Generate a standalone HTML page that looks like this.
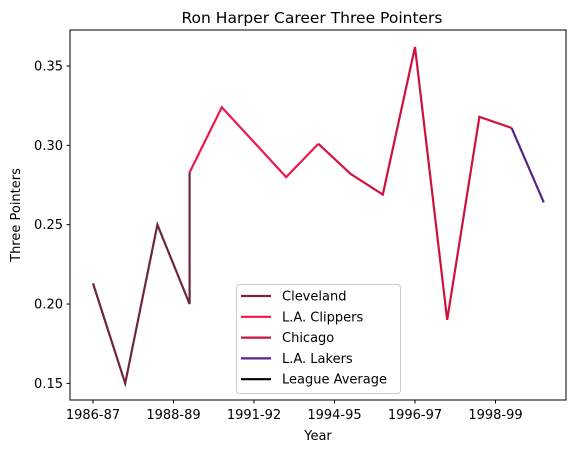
<!DOCTYPE html>
<html><head><meta charset="utf-8"><style>
body{margin:0;background:#fff;}
svg text{font-family:"DejaVu Sans","Liberation Sans",sans-serif;fill:#000;}
</style></head><body>
<svg id="chart" width="579" height="453" xmlns="http://www.w3.org/2000/svg">
<rect width="579" height="453" fill="#fff"/>
<text x="312" y="23" font-size="15.5" text-anchor="middle">Ron Harper Career Three Pointers</text>
<g id="plot"></g>
<rect x="70" y="30" width="496" height="370" fill="none" stroke="#000" stroke-width="1"/>
<text x="318" y="440" font-size="13" text-anchor="middle">Year</text>
<text transform="translate(20,215) rotate(-90)" font-size="13" text-anchor="middle">Three Pointers</text>
<g id="legend"></g>
</svg>
<script>
const xTickLabels=["1986-87","1988-89","1991-92","1994-95","1996-97","1998-99"];
const xTickPos=[0,2.5,5,7.5,10,12.5];
const yTicks=[0.15,0.20,0.25,0.30,0.35];
const seriesNames=["Cleveland","L.A. Clippers","Chicago","L.A. Lakers","League Average"];
const seriesColors=["#6f263d","#ed174c","#ce1141","#552583","#000000"];
const clevX=[0,1,2,3,3];const clevY=[0.213,0.150,0.250,0.200,0.283];
const clipX=[3,4,5,6,7];const clipY=[0.283,0.324,0.302,0.280,0.301];
const chiX=[7,8,9,10,11,12,13];const chiY=[0.301,0.282,0.269,0.362,0.190,0.318,0.311];
const lakX=[13,14];const lakY=[0.311,0.264];
const NS="http://www.w3.org/2000/svg";
function xs(i){return 93+i*32.2;}
function ys(v){return 30+(0.3727-v)*1586.7;}
const plot=document.getElementById('plot');
const svg=document.getElementById('chart');
function mk(t,a,p){const e=document.createElementNS(NS,t);for(const k in a)e.setAttribute(k,a[k]);(p||plot).appendChild(e);return e;}
yTicks.forEach(v=>{
 const l=mk('line',{x1:66.5,x2:70,y1:ys(v),y2:ys(v),stroke:'#000'},svg);
 
 
 const t=mk('text',{x:63,y:ys(v)+4.5,'font-size':13,'text-anchor':'end'},svg);
 t.textContent=v.toFixed(2);
 
 
});
xTickPos.forEach((p,i)=>{
 const l=mk('line',{x1:xs(p),x2:xs(p),y1:400,y2:403.5,stroke:'#000'},svg);
 
 
 const t=mk('text',{x:xs(p),y:419,'font-size':13,'text-anchor':'middle'},svg);
 t.textContent=xTickLabels[i];
 
 
});
const series=[[clevX,clevY,"cleveland-line"],[clipX,clipY,"clippers-line"],[chiX,chiY,"chicago-line"],[lakX,lakY,"lakers-line"]];
series.forEach((s,k)=>{
 const pts=s[0].map((x,i)=>xs(x)+','+ys(s[1][i])).join(' ');
 const pl=mk('polyline',{points:pts,fill:'none',stroke:seriesColors[k],'stroke-width':2.2,'stroke-linejoin':'miter'});
 
 
});
const lg=document.getElementById('legend');
const box=mk('rect',{x:236.5,y:284.5,width:164,height:109,rx:3,fill:'#fff','fill-opacity':0.8,stroke:'#ccc'},lg);


seriesNames.forEach((n,i)=>{
 const y=296+i*20.8;
 const l=mk('line',{x1:241,x2:271,y1:y,y2:y,stroke:seriesColors[i],'stroke-width':2.2},lg);
 
 
 const t=mk('text',{x:282,y:y+4.5,'font-size':13},lg);
 t.textContent=n;
 
 
});
</script>
</body></html>
